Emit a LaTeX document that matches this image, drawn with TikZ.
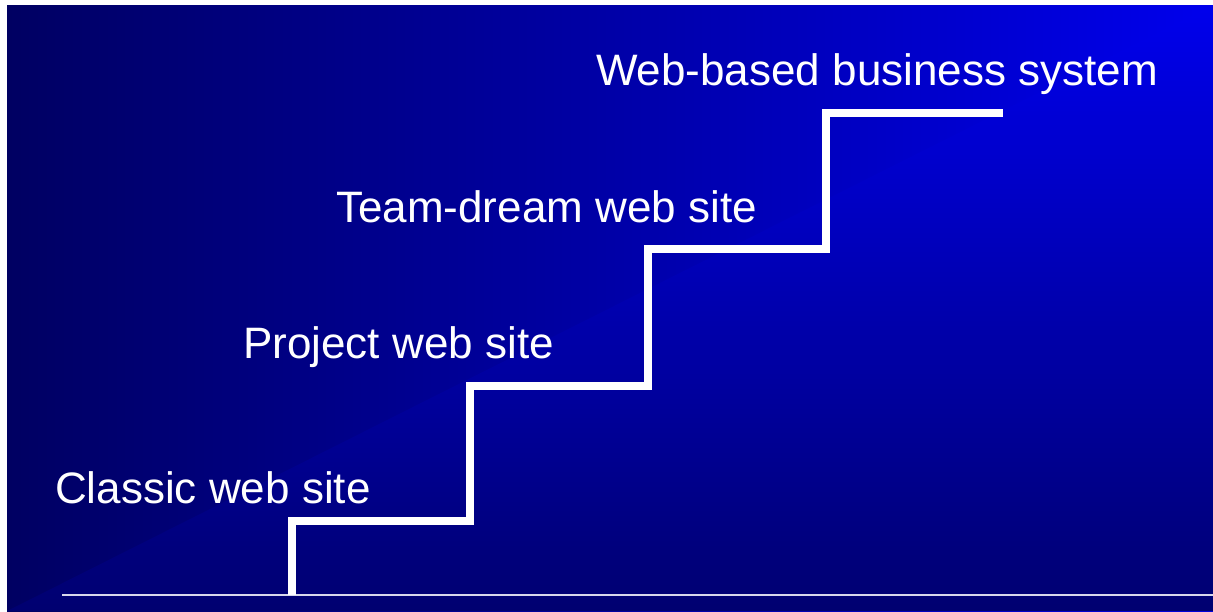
\documentclass[tikz,border=0pt]{standalone}
\usepackage{fontspec}
\setmainfont{Liberation Sans}
\definecolor{bgbright}{RGB}{0,0,236}
\definecolor{bgmid}{RGB}{0,0,172}
\definecolor{bgleft}{RGB}{0,0,98}
\definecolor{bgbottom}{RGB}{0,0,112}
\definecolor{baseline}{RGB}{215,215,235}
\tikzset{
  label text/.style={anchor=base west, inner sep=0pt, text=white, font=\fontsize{44}{52}\selectfont},
  stair/.style={draw=white, line width=8pt, miter limit=10},
  ground/.style={draw=baseline, line width=1.6pt}
}
\begin{document}
\begin{tikzpicture}[x=1pt,y=-1pt]
\useasboundingbox (0,0) rectangle (1213,611);
\fill[white] (0,0) rectangle (1213,611);
% rectangular gradient from the top-right corner
\shade[left color=bgleft, middle color=bgmid, right color=bgbright] (7,5) rectangle (1213,611);
\begin{scope}
  \clip (1213,5) -- (1213,611) -- (7,611) -- cycle;
  \shade[top color=bgbright, middle color=bgmid, bottom color=bgbottom] (7,5) rectangle (1213,611);
\end{scope}
% ground line
\coordinate (g1) at (62,595);
\coordinate (g2) at (1213,595);
\draw[ground] (g1) -- (g2);
% stairs
\coordinate (s0) at (292,595);
\coordinate (s1) at (292,521);
\coordinate (s2) at (470,521);
\coordinate (s3) at (470,385.5);
\coordinate (s4) at (648,385.5);
\coordinate (s5) at (648,249);
\coordinate (s6) at (826,249);
\coordinate (s7) at (826,113);
\coordinate (s8) at (1003,113);
\draw[stair] (s0) -- (s1) -- (s2) -- (s3) -- (s4) -- (s5) -- (s6) -- (s7) -- (s8);
% labels
\node[label text] (l1) at (55,503) {Classic web site};
\node[label text] (l2) at (243,358) {Project web site};
\node[label text] (l3) at (336,222) {Team-dream web site};
\node[label text] (l4) at (596,85) {Web-based business system};
\end{tikzpicture}
\end{document}
